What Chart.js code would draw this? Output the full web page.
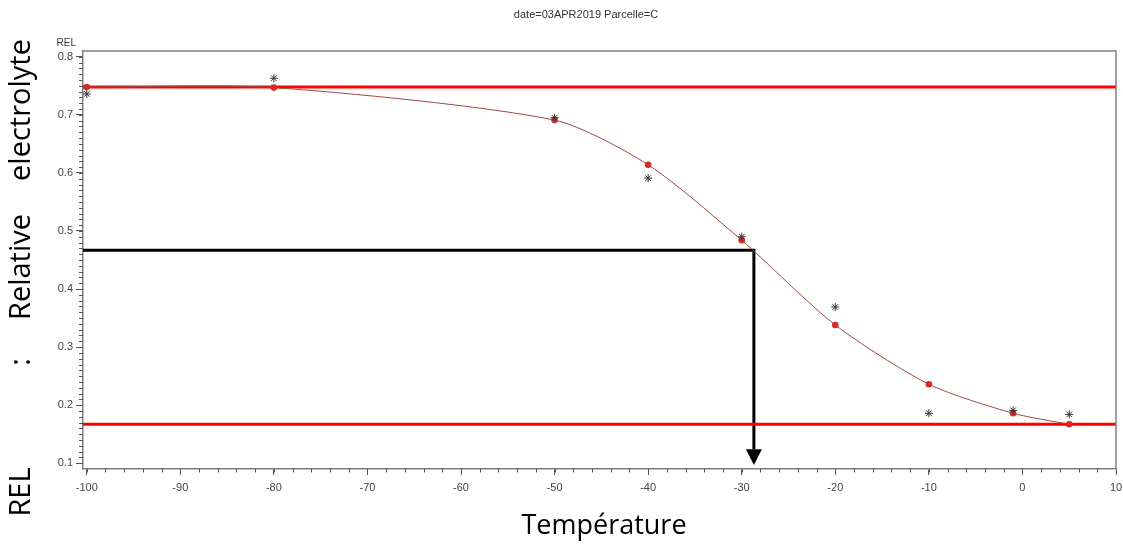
<!DOCTYPE html>
<html>
<head>
<meta charset="utf-8">
<script src="https://cdn.jsdelivr.net/npm/chart.js@4/dist/chart.umd.min.js"></script>
<style>
  html, body { margin: 0; padding: 0; background: #fff; }
  #wrap { width: 1123px; height: 545px; position: relative; }
</style>
</head>
<body>
<div id="wrap"><canvas id="c" width="1123" height="545"></canvas></div>
<script>
// Freezing temperatures (°C) of the test series
const temperatures = [-100, -80, -50, -40, -30, -20, -10, -1, 5];
// Fitted relative electrolyte leakage (dots joined by the curve)
const relFitted = [0.748, 0.747, 0.691, 0.614, 0.484, 0.338, 0.236, 0.186, 0.167];
// Observed relative electrolyte leakage (asterisks)
const relObserved = [0.736, 0.763, 0.695, 0.591, 0.490, 0.369, 0.186, 0.191, 0.184];
// Upper and lower plateaus of the curve
const plateauHigh = 0.748;
const plateauLow = 0.167;
// LT50 read-off: mid-point level and its temperature
const midLevel = 0.467;
const lt50 = -28.7;
const arrowBase = 0.124;
const arrowTip = 0.097;
// Axis ranges and ticks
const xMin = -100.4, xMax = 10;
const yMin = 0.09, yMax = 0.81;
const xMajorTicks = [-100, -90, -80, -70, -60, -50, -40, -30, -20, -10, 0, 10];
const xMinorStep = 2;
const yMajorTicks = [0.1, 0.2, 0.3, 0.4, 0.5, 0.6, 0.7, 0.8];
const yMinorStep = 0.01;
const chartTitle = 'date=03APR2019 Parcelle=C';
const xTitle = 'Température';
const yTitleWords = [['electrolyte', 110], ['Relative', 267], [':', 362], ['REL', 492]];

const pts = (xs, ys) => xs.map((x, i) => ({ x: x, y: ys[i] }));

const decorations = {
  id: 'decorations',
  afterDatasetsDraw(chart) {
    const ctx = chart.ctx;
    const a = chart.chartArea;
    const xs = chart.scales.x, ys = chart.scales.y;
    ctx.save();
    // frame on top and right
    ctx.strokeStyle = '#808080';
    ctx.lineWidth = 1.5;
    ctx.beginPath();
    ctx.moveTo(a.left, a.top);
    ctx.lineTo(a.right, a.top);
    ctx.lineTo(a.right, a.bottom);
    ctx.stroke();
    // minor ticks
    ctx.strokeStyle = '#555';
    ctx.lineWidth = 1;
    ctx.beginPath();
    for (let v = -100; v <= xMax + 1e-9; v += xMinorStep) {
      const px = Math.round(xs.getPixelForValue(v)) + 0.5;
      ctx.moveTo(px, a.bottom);
      ctx.lineTo(px, a.bottom + 3.5);
    }
    for (let k = Math.round(0.1 / yMinorStep); k <= Math.round(0.8 / yMinorStep); k++) {
      const py = Math.round(ys.getPixelForValue(k * yMinorStep)) + 0.5;
      ctx.moveTo(a.left - 4, py);
      ctx.lineTo(a.left, py);
    }
    ctx.stroke();
    // arrow head of the LT50 read-off
    const ax = xs.getPixelForValue(lt50);
    const yb = ys.getPixelForValue(arrowBase);
    const yt = ys.getPixelForValue(arrowTip);
    ctx.fillStyle = '#000';
    ctx.beginPath();
    ctx.moveTo(ax - 8, yb);
    ctx.lineTo(ax + 8, yb);
    ctx.lineTo(ax, yt);
    ctx.closePath();
    ctx.fill();
    ctx.restore();
  },
  afterDraw(chart) {
    const ctx = chart.ctx;
    const a = chart.chartArea;
    ctx.save();
    // title
    ctx.fillStyle = '#333';
    ctx.font = '11px "Liberation Sans", Arial, sans-serif';
    ctx.textAlign = 'center';
    ctx.textBaseline = 'middle';
    ctx.fillText(chartTitle, 586, 15);
    // small axis name above the y axis
    ctx.font = '10px "Liberation Sans", Arial, sans-serif';
    ctx.textAlign = 'right';
    ctx.fillText('REL', a.left - 7, 43);
    // big axis titles
    ctx.fillStyle = '#000';
    ctx.textAlign = 'center';
    ctx.textBaseline = 'middle';
    ctx.font = '27px "Open Sans", sans-serif';
    ctx.fillText(xTitle, 604, 526);
    ctx.font = '29px "Open Sans", sans-serif';
    yTitleWords.forEach(([w, cy]) => {
      ctx.save();
      ctx.translate(22, cy);
      ctx.rotate(-Math.PI / 2);
      ctx.fillText(w, 0, 0);
      ctx.restore();
    });
    ctx.restore();
  }
};

const tickFont = { family: '"Liberation Sans", Arial, sans-serif', size: 11 };

new Chart(document.getElementById('c'), {
  type: 'line',
  data: {
    datasets: [
      {
        label: 'Ajusté',
        data: pts(temperatures, relFitted),
        borderColor: '#a04545',
        borderWidth: 1,
        backgroundColor: '#d42a2a',
        pointBackgroundColor: '#d42a2a',
        pointBorderColor: '#c02020',
        pointBorderWidth: 0,
        pointRadius: 3.3,
        tension: 0.25,
        fill: false,
        order: 1
      },
      {
        label: 'Observé',
        data: pts(temperatures, relObserved),
        showLine: false,
        pointStyle: 'star',
        pointRadius: 4,
        pointBorderColor: '#333',
        pointBorderWidth: 1,
        pointBackgroundColor: '#333',
        order: 0
      },
      {
        label: 'Plateau haut',
        data: [{ x: xMin, y: plateauHigh }, { x: xMax, y: plateauHigh }],
        borderColor: '#ff0000',
        borderWidth: 3,
        pointRadius: 0,
        order: 2
      },
      {
        label: 'Plateau bas',
        data: [{ x: xMin, y: plateauLow }, { x: xMax, y: plateauLow }],
        borderColor: '#ff0000',
        borderWidth: 3,
        pointRadius: 0,
        order: 2
      },
      {
        label: 'LT50',
        data: [{ x: xMin, y: midLevel }, { x: lt50, y: midLevel }, { x: lt50, y: arrowBase }],
        borderColor: '#000',
        borderWidth: 3,
        pointRadius: 0,
        borderJoinStyle: 'miter',
        order: 3
      }
    ]
  },
  options: {
    responsive: false,
    animation: false,
    events: [],
    layout: { padding: { left: 0, top: 51, right: 7, bottom: 46 } },
    plugins: { legend: { display: false }, tooltip: { enabled: false }, title: { display: false } },
    scales: {
      x: {
        type: 'linear',
        min: xMin,
        max: xMax,
        afterBuildTicks(s) { s.ticks = xMajorTicks.map(v => ({ value: v })); },
        afterFit(s) { s.height = 30; s.paddingLeft = 0; s.paddingRight = 0; },
        ticks: { font: tickFont, color: '#444', padding: 6, maxRotation: 0, autoSkip: false,
                 callback: v => String(v) },
        grid: { drawOnChartArea: false, drawTicks: true, tickLength: 6, tickColor: '#555', tickWidth: 1 },
        border: { display: true, color: '#808080', width: 1.5 }
      },
      y: {
        type: 'linear',
        min: yMin,
        max: yMax,
        afterBuildTicks(s) { s.ticks = yMajorTicks.map(v => ({ value: v })); },
        afterFit(s) { s.width = 83; s.paddingTop = 0; s.paddingBottom = 0; },
        ticks: { font: tickFont, color: '#444', padding: 3, autoSkip: false,
                 callback: v => String(Math.round(v * 10) / 10) },
        grid: { drawOnChartArea: false, drawTicks: true, tickLength: 7, tickColor: '#555', tickWidth: 1 },
        border: { display: true, color: '#808080', width: 1.5 }
      }
    }
  },
  plugins: [decorations]
});
</script>
</body>
</html>
